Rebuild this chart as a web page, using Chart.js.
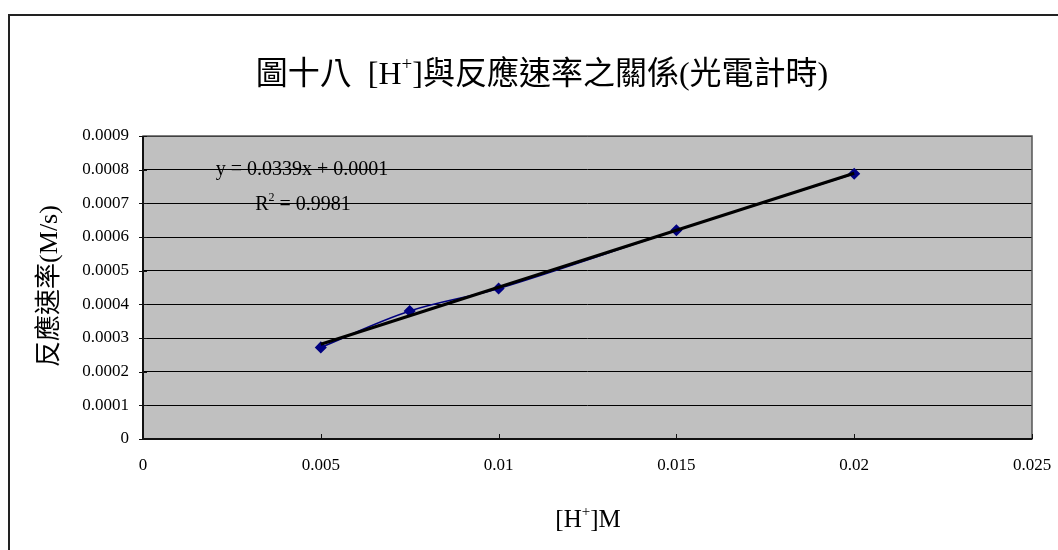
<!DOCTYPE html>
<html>
<head>
<meta charset="utf-8">
<script src="https://cdn.jsdelivr.net/npm/chart.js@4/dist/chart.umd.min.js"></script>
<style>
  html, body { margin: 0; padding: 0; background: #fff; }
  canvas { display: block; }
</style>
</head>
<body>
<canvas id="c" width="1058" height="550"></canvas>
<script>
// [H+] concentration (M) and measured reaction rate (M/s)
const concentrations = [0.005, 0.0075, 0.01, 0.015, 0.02];
const rates = [0.000272, 0.00038, 0.000447, 0.00062, 0.000788];

const xTickLabels = ['0', '0.005', '0.01', '0.015', '0.02', '0.025'];
const yTickLabels = ['0', '0.0001', '0.0002', '0.0003', '0.0004', '0.0005',
                     '0.0006', '0.0007', '0.0008', '0.0009'];

const titleParts = [{ t: '圖十八  [H' }, { t: '+', sup: true }, { t: ']與反應速率之關係(光電計時)' }];
const xTitleParts = [{ t: '[H' }, { t: '+', sup: true }, { t: ']M' }];
const yTitleParts = [{ t: '反應速率(M/s)' }];
const equationParts = [{ t: 'y = 0.0339x + 0.0001' }];
const rSquaredParts = [{ t: 'R' }, { t: '2', sup: true }, { t: ' = 0.9981' }];

// least-squares line through the measurements, drawn across the data range
function linearFit(xs, ys) {
  const n = xs.length;
  const mx = xs.reduce((a, b) => a + b, 0) / n;
  const my = ys.reduce((a, b) => a + b, 0) / n;
  let sxy = 0, sxx = 0;
  for (let i = 0; i < n; i++) {
    sxy += (xs[i] - mx) * (ys[i] - my);
    sxx += (xs[i] - mx) * (xs[i] - mx);
  }
  const slope = sxy / sxx;
  return { slope, intercept: my - slope * mx };
}
const fit = linearFit(concentrations, rates);
const xMin = Math.min(...concentrations), xMax = Math.max(...concentrations);
const trendPoints = [xMin, xMax].map(x => ({ x, y: fit.slope * x + fit.intercept }));
const measuredPoints = concentrations.map((x, i) => ({ x, y: rates[i] }));

const SERIF = '"Liberation Serif", "Times New Roman", "Noto Sans CJK TC", serif';

function drawRich(ctx, parts, cx, cy, size, rotate) {
  const supSize = Math.round(size * 0.6);
  ctx.save();
  ctx.translate(cx, cy);
  if (rotate) ctx.rotate(-Math.PI / 2);
  ctx.textBaseline = 'alphabetic';
  ctx.textAlign = 'left';
  let total = 0;
  const widths = parts.map(p => {
    ctx.font = (p.sup ? supSize : size) + 'px ' + SERIF;
    const w = ctx.measureText(p.t).width;
    total += w;
    return w;
  });
  let x = -total / 2;
  const base = size * 0.35;
  ctx.fillStyle = '#000';
  parts.forEach((p, i) => {
    ctx.font = (p.sup ? supSize : size) + 'px ' + SERIF;
    ctx.fillText(p.t, x, p.sup ? base - size * 0.45 : base);
    x += widths[i];
  });
  ctx.restore();
}

const framePlugin = {
  id: 'frame',
  beforeDraw(chart) {
    const { ctx, chartArea: a } = chart;
    ctx.save();
    ctx.fillStyle = '#fff';
    ctx.fillRect(0, 0, chart.width, chart.height);
    // outer chart border
    ctx.strokeStyle = '#222';
    ctx.lineWidth = 2;
    ctx.beginPath();
    ctx.moveTo(9, chart.height + 2);
    ctx.lineTo(9, 15);
    ctx.lineTo(chart.width + 2, 15);
    ctx.stroke();
    // plot area
    ctx.fillStyle = '#C0C0C0';
    ctx.fillRect(a.left, a.top, a.right - a.left, a.bottom - a.top);
    ctx.restore();
  },
  afterDraw(chart) {
    const { ctx, chartArea: a, scales } = chart;
    ctx.save();
    ctx.strokeStyle = '#555';
    ctx.lineWidth = 1.5;
    ctx.strokeRect(a.left, a.top, a.right - a.left, a.bottom - a.top);
    ctx.strokeStyle = '#111';
    ctx.lineWidth = 2;
    ctx.beginPath();
    ctx.moveTo(a.left, a.top);
    ctx.lineTo(a.left, a.bottom);
    ctx.lineTo(a.right, a.bottom);
    ctx.stroke();
    ctx.lineWidth = 1;
    ctx.beginPath();
    scales.y.ticks.forEach(t => {
      const py = Math.round(scales.y.getPixelForValue(t.value)) + 0.5;
      ctx.moveTo(a.left - 4, py);
      ctx.lineTo(a.left + 4, py);
    });
    scales.x.ticks.forEach(t => {
      const px = Math.round(scales.x.getPixelForValue(t.value)) + 0.5;
      ctx.moveTo(px, a.bottom);
      ctx.lineTo(px, a.bottom - 5);
    });
    ctx.stroke();
    ctx.restore();

    drawRich(ctx, titleParts, 542, 73, 32, false);
    drawRich(ctx, xTitleParts, 588, 518, 25, false);
    drawRich(ctx, yTitleParts, 48, 286, 26, true);
    drawRich(ctx, equationParts, 302, 168, 20, false);
    drawRich(ctx, rSquaredParts, 303, 203, 20, false);
  }
};

new Chart(document.getElementById('c'), {
  type: 'scatter',
  data: {
    datasets: [
      {
        label: 'trend',
        data: trendPoints,
        showLine: true,
        borderColor: '#000',
        borderWidth: 3,
        pointRadius: 0
      },
      {
        label: 'rate',
        data: measuredPoints,
        showLine: true,
        tension: 0.35,
        borderColor: '#000080',
        borderWidth: 1.5,
        backgroundColor: '#000080',
        pointStyle: 'rectRot',
        pointRadius: 5,
        pointBorderColor: '#000080'
      }
    ]
  },
  options: {
    responsive: false,
    animation: false,
    layout: { padding: { left: 0, top: 136, right: 26, bottom: 0 } },
    plugins: {
      legend: { display: false },
      tooltip: { enabled: false },
      title: { display: false }
    },
    scales: {
      x: {
        type: 'linear',
        min: 0,
        max: 0.025,
        afterFit(s) { s.height = 111; s.paddingLeft = 0; s.paddingRight = 0; },
        ticks: {
          stepSize: 0.005,
          padding: 16,
          color: '#000',
          font: { family: SERIF, size: 17 },
          callback: (v, i) => xTickLabels[i]
        },
        grid: { display: false, drawTicks: false },
        border: { display: false }
      },
      y: {
        type: 'linear',
        min: 0,
        max: 0.0009,
        afterFit(s) { s.width = 143; s.paddingTop = 0; s.paddingBottom = 0; },
        ticks: {
          stepSize: 0.0001,
          padding: 14,
          color: '#000',
          font: { family: SERIF, size: 17 },
          callback: (v, i) => yTickLabels[i]
        },
        grid: { color: '#000', lineWidth: 1, drawTicks: false },
        border: { display: false }
      }
    }
  },
  plugins: [framePlugin]
});
</script>
</body>
</html>
